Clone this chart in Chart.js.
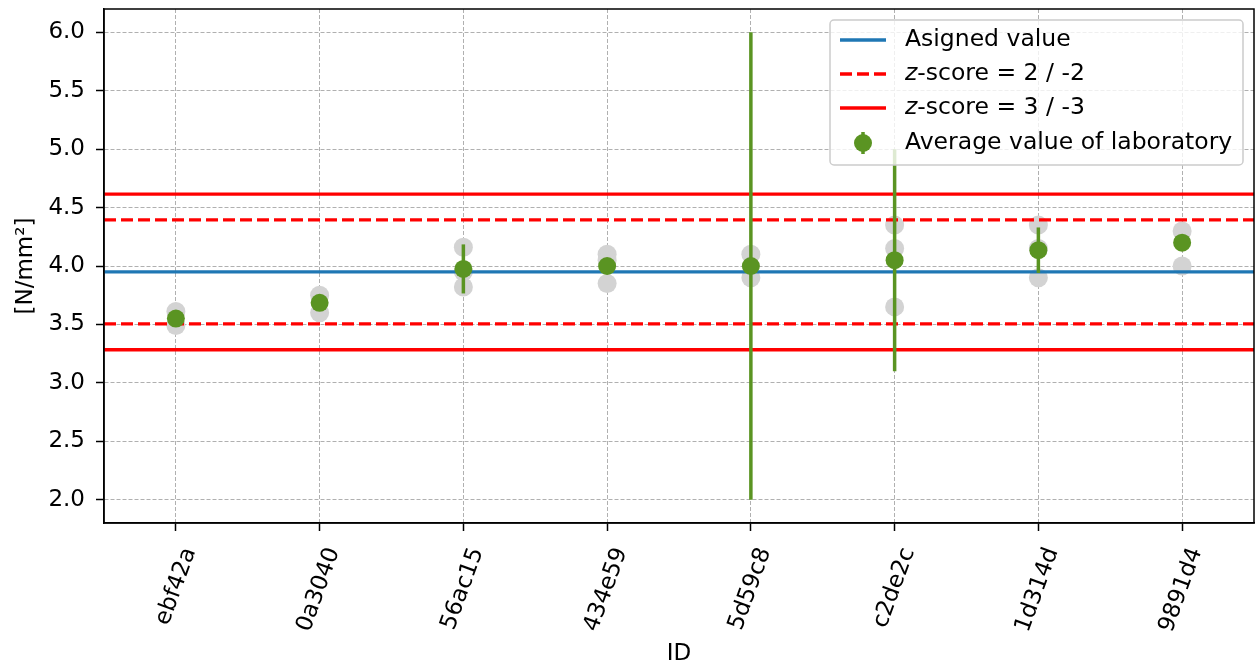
<!DOCTYPE html>
<html>
<head>
<meta charset="utf-8">
<script src="https://cdn.jsdelivr.net/npm/chart.js@4"></script>
<style>
  html, body { margin: 0; padding: 0; background: #fff; overflow: hidden; }
  #wrap { width: 1255px; height: 668px; }
  #chart1 { display: block; }
</style>
</head>
<body>
<div id="wrap"><canvas id="chart1" width="1255" height="668"></canvas></div>
<script>
// lab ids on the x axis
var ids = ["ebf42a", "0a3040", "56ac15", "434e59", "5d59c8", "c2de2c", "1d314d", "9891d4"];
// average value of each laboratory and its error (half length of bar)
var means = [3.55, 3.685, 3.975, 4.0, 4.0, 4.05, 4.135, 4.2];
var errs = [0.03, 0.03, 0.21, 0.03, 2.0, 0.95, 0.195, 0.03];
// single replicate results (index of lab, value)
var repLab = [0, 0, 1, 1, 2, 2, 2, 3, 3, 3, 4, 4, 5, 5, 5, 6, 6, 6, 7, 7];
var repVal = [3.61, 3.49, 3.75, 3.60, 4.16, 3.95, 3.82, 4.10, 4.05, 3.85, 4.10, 3.90, 4.35, 4.15, 3.65, 4.35, 4.15, 3.90, 4.30, 4.00];
// reference lines
var assigned = 3.95;
var z2 = [4.395, 3.505];
var z3 = [4.615, 3.283];
var yTicks = [2.0, 2.5, 3.0, 3.5, 4.0, 4.5, 5.0, 5.5, 6.0];

var green = '#5a9422';
var FONT = "'DejaVu Sans', sans-serif";
var FS = 23;

function hline(v) {
    return [{x: -0.5, y: v}, {x: ids.length - 0.5, y: v}];
}

var datasets = [];
datasets.push({
    label: 'replicates',
    data: repLab.map(function (l, i) { return {x: l, y: repVal[i]}; }),
    backgroundColor: '#d3d3d3',
    borderWidth: 0,
    pointRadius: 9.5,
    order: 5
});
z3.forEach(function (v) {
    datasets.push({ label: 'z3', data: hline(v), showLine: true, borderColor: '#ff0000', borderWidth: 3.3, pointRadius: 0, order: 3 });
});
z2.forEach(function (v) {
    datasets.push({ label: 'z2', data: hline(v), showLine: true, borderColor: '#ff0000', borderWidth: 3.3, borderDash: [12, 5], pointRadius: 0, order: 3 });
});
datasets.push({ label: 'assigned', data: hline(assigned), showLine: true, borderColor: '#1f77b4', borderWidth: 3.3, pointRadius: 0, order: 3 });
var avgIndex = datasets.length;
datasets.push({
    label: 'Average value of laboratory',
    data: means.map(function (m, i) { return {x: i, y: m}; }),
    backgroundColor: green,
    borderWidth: 0,
    pointRadius: 9,
    order: 0
});

var errorBars = {
    id: 'errorBars',
    beforeDatasetDraw: function (chart, args) {
        if (args.index !== avgIndex) return;
        var ctx = chart.ctx, xs = chart.scales.x, ys = chart.scales.y, a = chart.chartArea;
        ctx.save();
        ctx.beginPath();
        ctx.rect(a.left, a.top, a.right - a.left, a.bottom - a.top);
        ctx.clip();
        ctx.strokeStyle = green;
        ctx.lineWidth = 3.5;
        means.forEach(function (m, i) {
            var px = xs.getPixelForValue(i);
            ctx.beginPath();
            ctx.moveTo(px, ys.getPixelForValue(m - errs[i]));
            ctx.lineTo(px, ys.getPixelForValue(m + errs[i]));
            ctx.stroke();
        });
        ctx.restore();
    }
};

var frameAndLegend = {
    id: 'frameAndLegend',
    afterDatasetsDraw: function (chart) {
        var ctx = chart.ctx, a = chart.chartArea;
        ctx.save();
        ctx.strokeStyle = '#000';
        ctx.lineWidth = 1.5;
        ctx.strokeRect(a.left, a.top, a.right - a.left, a.bottom - a.top);
        ctx.restore();
    },
    afterDraw: function (chart) {
        var ctx = chart.ctx;
        var bx = 830, by = 20, bw = 413, bh = 145, r = 4;
        ctx.save();
        ctx.beginPath();
        ctx.moveTo(bx + r, by);
        ctx.arcTo(bx + bw, by, bx + bw, by + bh, r);
        ctx.arcTo(bx + bw, by + bh, bx, by + bh, r);
        ctx.arcTo(bx, by + bh, bx, by, r);
        ctx.arcTo(bx, by, bx + bw, by, r);
        ctx.closePath();
        ctx.fillStyle = 'rgba(255,255,255,0.8)';
        ctx.fill();
        ctx.strokeStyle = '#cccccc';
        ctx.lineWidth = 1.5;
        ctx.stroke();

        var rows = [40, 74, 108, 143];
        var x0 = 840, x1 = 886, tx = 905;
        ctx.lineWidth = 3.3;
        ctx.strokeStyle = '#1f77b4';
        ctx.beginPath(); ctx.moveTo(x0, rows[0]); ctx.lineTo(x1, rows[0]); ctx.stroke();
        ctx.strokeStyle = '#ff0000';
        ctx.setLineDash([12, 5]);
        ctx.beginPath(); ctx.moveTo(x0, rows[1]); ctx.lineTo(x1, rows[1]); ctx.stroke();
        ctx.setLineDash([]);
        ctx.beginPath(); ctx.moveTo(x0, rows[2]); ctx.lineTo(x1, rows[2]); ctx.stroke();
        ctx.strokeStyle = green;
        ctx.lineWidth = 3.5;
        ctx.beginPath(); ctx.moveTo(863, rows[3] - 11); ctx.lineTo(863, rows[3] + 11); ctx.stroke();
        ctx.fillStyle = green;
        ctx.beginPath(); ctx.arc(863, rows[3], 9, 0, Math.PI * 2); ctx.fill();

        ctx.fillStyle = '#000';
        ctx.textBaseline = 'middle';
        ctx.textAlign = 'left';
        ctx.font = '23.5px ' + FONT;
        ctx.fillText('Asigned value', tx, rows[0]);
        ctx.fillText('Average value of laboratory', tx, rows[3]);
        [[rows[1], '-score = 2 / -2'], [rows[2], '-score = 3 / -3']].forEach(function (t) {
            ctx.font = 'italic 23.5px ' + FONT;
            ctx.fillText('z', tx, t[0]);
            var w = ctx.measureText('z').width;
            ctx.font = '23.5px ' + FONT;
            ctx.fillText(t[1], tx + w, t[0]);
        });
        ctx.restore();
    }
};

var ctx = document.getElementById('chart1').getContext('2d');
var chart = new Chart(ctx, {
    type: 'scatter',
    data: { datasets: datasets },
    options: {
        responsive: false,
        animation: false,
        layout: { autoPadding: false, padding: { top: 9, right: 1, left: 0, bottom: 0 } },
        plugins: {
            legend: { display: false },
            tooltip: { enabled: false }
        },
        scales: {
            x: {
                type: 'linear',
                min: -0.5,
                max: ids.length - 0.5,
                afterBuildTicks: function (scale) {
                    scale.ticks = ids.map(function (d, i) { return {value: i}; });
                },
                afterFit: function (scale) {
                    scale.height = 145;
                    scale.paddingLeft = 0;
                    scale.paddingRight = 0;
                },
                grid: { color: '#b0b0b0', lineWidth: 1, tickColor: '#000', tickLength: 8, tickWidth: 1.5 },
                border: { display: true, color: '#000', width: 1.5, dash: [4, 2] },
                ticks: {
                    minRotation: 70,
                    maxRotation: 70,
                    autoSkip: false,
                    color: '#000',
                    padding: 13,
                    labelOffset: 14,
                    font: { family: FONT, size: FS },
                    callback: function (v) { return ids[v]; }
                },
                title: { display: true, text: 'ID', color: '#000', font: { family: FONT, size: FS }, padding: { top: 0, bottom: 0 } }
            },
            y: {
                min: 1.8,
                max: 6.2,
                afterBuildTicks: function (scale) {
                    scale.ticks = yTicks.map(function (v) { return {value: v}; });
                },
                afterFit: function (scale) {
                    scale.width = 104;
                    scale.paddingTop = 0;
                    scale.paddingBottom = 0;
                },
                grid: { color: '#b0b0b0', lineWidth: 1, tickColor: '#000', tickLength: 8, tickWidth: 1.5 },
                border: { display: true, color: '#000', width: 1.5, dash: [4, 2] },
                ticks: {
                    color: '#000',
                    padding: 11,
                    font: { family: FONT, size: FS },
                    callback: function (v) { return v.toFixed(1); }
                },
                title: { display: true, text: '[N/mm²]', color: '#000', font: { family: FONT, size: FS }, padding: { top: 12, bottom: 0 } }
            }
        }
    },
    plugins: [errorBars, frameAndLegend]
});
</script>
</body>
</html>
